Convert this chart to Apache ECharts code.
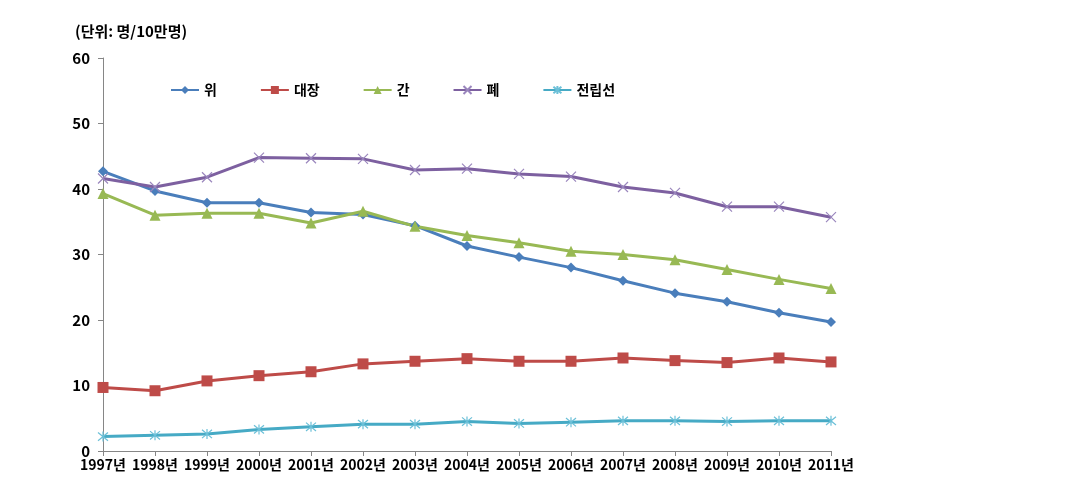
<!DOCTYPE html>
<html>
<head>
<meta charset="utf-8">
<script src="https://cdn.jsdelivr.net/npm/echarts@6/dist/echarts.min.js"></script>
<style>
  html, body { margin: 0; padding: 0; background: #fff; }
  #chart { width: 1069px; height: 500px; }
</style>
</head>
<body>
<div id="chart"></div>
<script>
// 연도별 암 사망률 (명/10만명)
var years = ['1997년', '1998년', '1999년', '2000년', '2001년', '2002년', '2003년', '2004년',
             '2005년', '2006년', '2007년', '2008년', '2009년', '2010년', '2011년'];
var stomach = [42.7, 39.7, 37.9, 37.9, 36.4, 36.1, 34.4, 31.3, 29.6, 28.0, 26.0, 24.1, 22.8, 21.1, 19.7];
var colon = [9.7, 9.2, 10.7, 11.5, 12.1, 13.3, 13.7, 14.1, 13.7, 13.7, 14.2, 13.8, 13.5, 14.2, 13.6];
var liver = [39.3, 36.0, 36.3, 36.3, 34.8, 36.6, 34.3, 32.9, 31.8, 30.5, 30.0, 29.2, 27.7, 26.2, 24.8];
var lung = [41.6, 40.3, 41.8, 44.8, 44.7, 44.6, 42.9, 43.1, 42.3, 41.9, 40.3, 39.4, 37.3, 37.3, 35.7];
var prostate = [2.2, 2.4, 2.6, 3.3, 3.7, 4.1, 4.1, 4.5, 4.2, 4.4, 4.6, 4.6, 4.5, 4.6, 4.6];
var yTicks = [0, 10, 20, 30, 40, 50, 60];

var font = '"Noto Sans CJK KR", "Noto Sans", sans-serif';
var crossPath = 'path://M0,0L10,10M10,0L0,10';
var starPath = 'path://M0,0L10,10M10,0L0,10M5,-1L5,11';

function makeLine(name, data, color, symbol, size, markColor) {
    return {
        name: name,
        type: 'line',
        data: data,
        symbol: symbol,
        symbolSize: size,
        lineStyle: { color: color, width: 3 },
        itemStyle: markColor
            ? { color: 'rgba(0,0,0,0)', borderColor: markColor, borderWidth: 1.2 }
            : { color: color },
        emphasis: { disabled: true }
    };
}

var myChart = echarts.init(document.getElementById('chart'));
myChart.setOption({
    animation: false,
    title: {
        text: '(단위: 명/10만명)',
        left: 70,
        top: 19,
        textStyle: { fontFamily: font, fontSize: 15, fontWeight: 'bold', color: '#000' }
    },
    legend: {
        top: 78,
        left: 165,
        itemGap: 43,
        itemWidth: 28,
        itemHeight: 10,
        textStyle: { fontFamily: font, fontSize: 14, fontWeight: 'bold', color: '#000' },
        data: ['위', '대장', '간', '폐', '전립선']
    },
    grid: { left: 103, right: 238, top: 58, bottom: 49 },
    xAxis: {
        type: 'category',
        boundaryGap: false,
        data: years,
        axisLine: { lineStyle: { color: '#868686' } },
        axisTick: { length: 5, lineStyle: { color: '#868686' } },
        axisLabel: { fontFamily: font, fontSize: 14, fontWeight: 'bold', color: '#000', margin: 7, interval: 0 }
    },
    yAxis: {
        type: 'value',
        min: yTicks[0],
        max: yTicks[yTicks.length - 1],
        interval: 10,
        axisLine: { show: true, lineStyle: { color: '#868686' } },
        axisTick: { show: true, length: 5, lineStyle: { color: '#868686' } },
        splitLine: { show: false },
        axisLabel: { fontFamily: font, fontSize: 15, fontWeight: 'bold', color: '#000', margin: 13 }
    },
    series: [
        makeLine('위', stomach, '#4a7ebb', 'diamond', 10),
        makeLine('대장', colon, '#be4b48', 'rect', 11),
        makeLine('간', liver, '#98b954', 'triangle', 11),
        makeLine('폐', lung, '#7d60a0', crossPath, 10, '#9a86bd'),
        makeLine('전립선', prostate, '#46aac5', starPath, 10, '#6cc0d8')
    ]
});
</script>
</body>
</html>
